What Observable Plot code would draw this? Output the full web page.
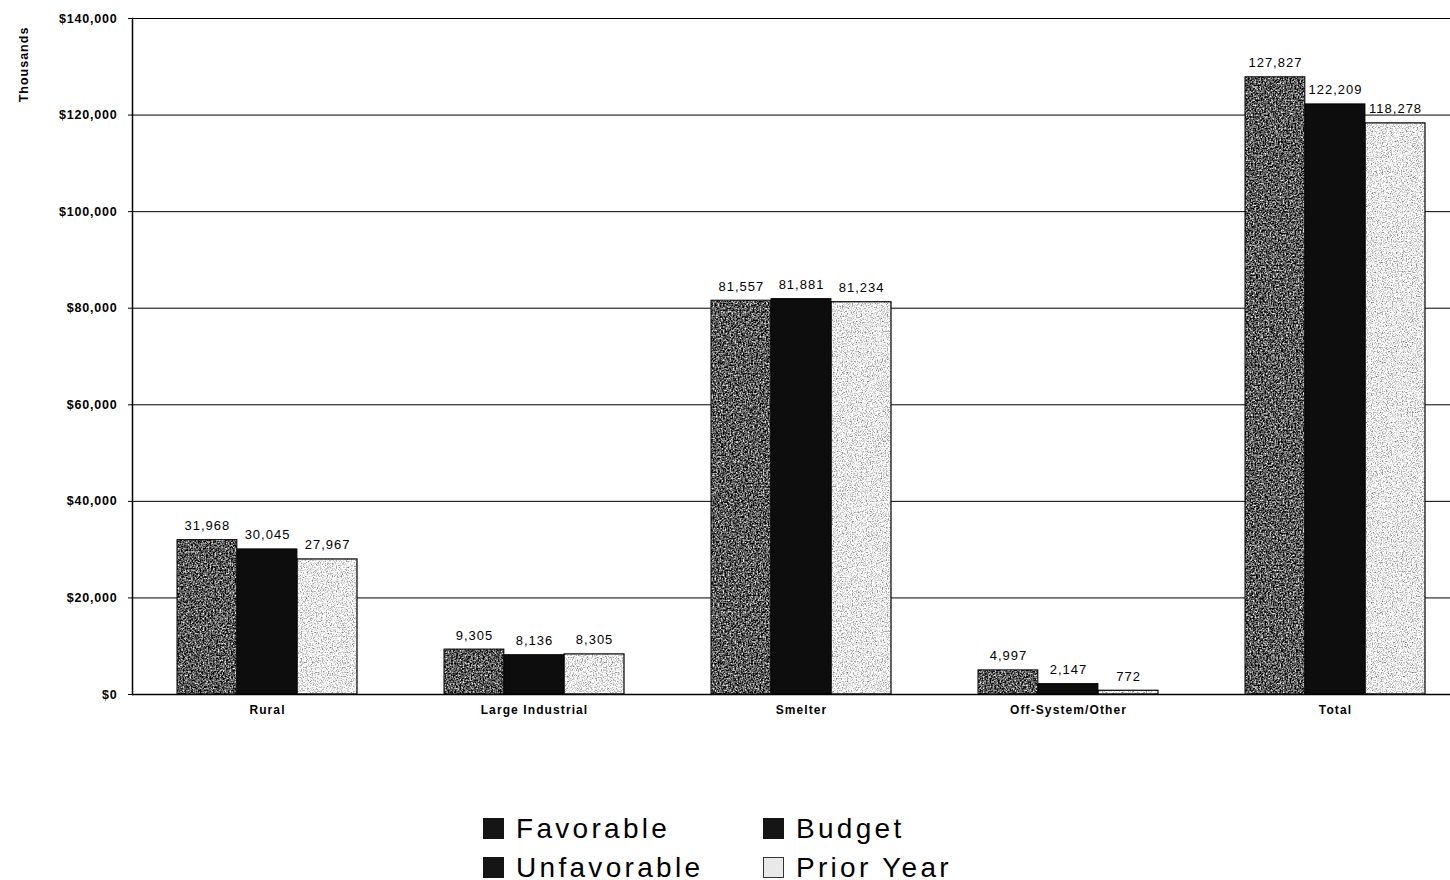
<!DOCTYPE html>
<html>
<head>
<meta charset="utf-8">
<script src="https://cdn.jsdelivr.net/npm/d3@7"></script>
<script src="https://cdn.jsdelivr.net/npm/@observablehq/plot@0.6"></script>
<style>
  html, body { margin: 0; padding: 0; background: #fff; overflow: hidden; }
  body { font-family: "Liberation Sans", Arial, sans-serif; position: relative; width: 1450px; height: 880px; }
  #chart { position: absolute; left: 0; top: 0; }
  #legend {
    position: absolute; left: 483px; top: 809px;
    display: grid; grid-template-columns: 280px 280px; grid-auto-rows: 39px;
    font-size: 28px; letter-spacing: 3.3px; color: #000;
  }
  #legend .item { display: flex; align-items: center; }
  #legend .sw { width: 21px; height: 21px; margin-right: 12px; box-sizing: border-box; }
</style>
</head>
<body>
<div id="chart"></div>
<div id="legend"></div>
<script>
// Revenue by customer class (thousands of dollars)
const categories = ["Rural", "Large Industrial", "Smelter", "Off-System/Other", "Total"];
const actual     = [31968, 9305, 81557, 4997, 127827];
const budget     = [30045, 8136, 81881, 2147, 122209];
const priorYear  = [27967, 8305, 81234, 772, 118278];
const yTicks     = [0, 20000, 40000, 60000, 80000, 100000, 120000, 140000];
const legendItems = [
  {label: "Favorable",   swatch: "#151515", border: "#151515"},
  {label: "Budget",      swatch: "#151515", border: "#151515"},
  {label: "Unfavorable", swatch: "#151515", border: "#151515"},
  {label: "Prior Year",  swatch: "#e9e9e9", border: "#333"}
];

// Layout
const width = 1470, height = 724;
const marginLeft = 132, marginRight = 0, marginTop = 18, marginBottom = 30;
const paddingInner = 0.3265;
const step = (width - marginLeft - marginRight) / categories.length;
const third = step * (1 - paddingInner) / 3;

// Rows: actual bars are shaded by whether they beat budget
const actualRows = categories.map((c, i) => ({
  category: c, value: actual[i],
  fill: actual[i] >= budget[i] ? "url(#favorable)" : "url(#unfavorable)"
}));
const budgetRows = categories.map((c, i) => ({category: c, value: budget[i]}));
const priorRows = categories.map((c, i) => ({category: c, value: priorYear[i]}));

const fmt = d3.format(",");
const labelOpts = {x: "category", y: "value", text: d => fmt(d.value), lineAnchor: "bottom", dy: -10, fontSize: 13, fill: "#000"};

const plot = Plot.plot({
  width, height, marginLeft, marginRight, marginTop, marginBottom,
  style: {fontFamily: "'Liberation Sans', Arial, sans-serif", background: "#fff", color: "#000", maxWidth: "none"},
  x: {type: "band", domain: categories, paddingInner, paddingOuter: paddingInner / 2},
  y: {domain: [0, 140000]},
  color: {type: "identity"},
  marks: [
    Plot.ruleY(yTicks, {stroke: "#000", strokeWidth: 1}),
    Plot.barY(actualRows, {x: "category", y: "value", fill: "fill", stroke: "#000", strokeWidth: 1, insetRight: 2 * third}),
    Plot.barY(budgetRows, {x: "category", y: "value", fill: "#0d0d0d", stroke: "#000", strokeWidth: 1, insetLeft: third, insetRight: third}),
    Plot.barY(priorRows, {x: "category", y: "value", fill: "url(#prior)", stroke: "#000", strokeWidth: 1.2, insetLeft: 2 * third}),
    Plot.ruleY([0], {stroke: "#000", strokeWidth: 1.5}),
    Plot.frame({anchor: "left", stroke: "#000", strokeWidth: 1.5}),
    Plot.text(actualRows, {...labelOpts, dx: -third}),
    Plot.text(budgetRows, {...labelOpts}),
    Plot.text(priorRows, {...labelOpts, dx: third}),
    Plot.axisY({ticks: yTicks, tickFormat: d => "$" + fmt(d), tickSize: 4, tickPadding: 11, fontSize: 12.5, fontWeight: "bold", label: null}),
    Plot.axisX({tickSize: 0, tickPadding: 11, fontSize: 12, fontWeight: "bold", label: null}),
    Plot.text(["Thousands"], {frameAnchor: "top-left", textAnchor: "middle", rotate: -90, dx: -113, dy: 46, fontSize: 12.5, fontWeight: "bold", fill: "#000"})
  ]
});

// Grain textures for the bar fills
const defs = d3.select(plot).insert("defs", ":first-child");
defs.html(`
  <filter id="grainDark" x="0" y="0" width="1" height="1" color-interpolation-filters="sRGB">
    <feTurbulence type="fractalNoise" baseFrequency="0.6" numOctaves="4" seed="4" stitchTiles="stitch"/>
    <feColorMatrix type="matrix" values="1.9 0 0 0 -0.6  1.9 0 0 0 -0.6  1.9 0 0 0 -0.6  0 0 0 0 1"/>
  </filter>
  <filter id="grainLight" x="0" y="0" width="1" height="1" color-interpolation-filters="sRGB">
    <feTurbulence type="fractalNoise" baseFrequency="0.8" numOctaves="3" seed="9" stitchTiles="stitch"/>
    <feColorMatrix type="matrix" values="1.3 0 0 0 0.28  1.3 0 0 0 0.28  1.3 0 0 0 0.28  0 0 0 0 1"/>
  </filter>
  <pattern id="favorable" patternUnits="userSpaceOnUse" width="300" height="300">
    <rect width="300" height="300" filter="url(#grainDark)"/>
  </pattern>
  <pattern id="unfavorable" patternUnits="userSpaceOnUse" width="300" height="300">
    <rect width="300" height="300" filter="url(#grainDark)"/>
  </pattern>
  <pattern id="prior" patternUnits="userSpaceOnUse" width="300" height="300">
    <rect width="300" height="300" filter="url(#grainLight)"/>
  </pattern>
`);

// Letter spacing on text groups
const svg = d3.select(plot);
svg.selectAll("g[aria-label='text'] text").style("letter-spacing", "1px");
svg.selectAll("g[aria-label='y-axis tick label'] text").style("letter-spacing", "0.8px");
svg.selectAll("g[aria-label='x-axis tick label'] text").style("letter-spacing", "1.1px");

document.getElementById("chart").appendChild(plot);

// Legend
const legend = d3.select("#legend");
legendItems.forEach(it => {
  const item = legend.append("div").attr("class", "item");
  item.append("span").attr("class", "sw")
    .style("background", it.swatch)
    .style("border", `1.5px solid ${it.border}`);
  item.append("span").text(it.label);
});
</script>
</body>
</html>
